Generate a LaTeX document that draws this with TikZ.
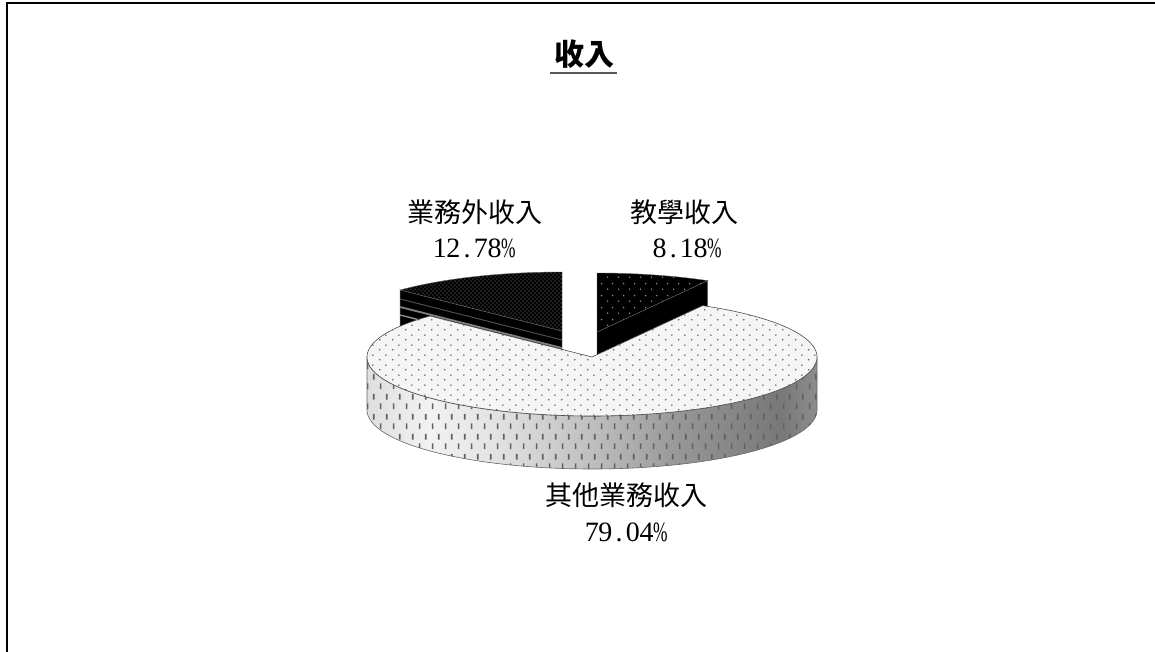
\documentclass[tikz,border=0pt]{standalone}
\usepackage{fontspec}
\usepackage{graphicx}
\setmainfont{Liberation Serif}
\newfontfamily\cjk{Noto Sans CJK TC}
\usetikzlibrary{patterns,calc}

\pgfdeclarepatternformonly{topdots}{\pgfqpoint{0pt}{0pt}}{\pgfqpoint{13pt}{10pt}}{\pgfqpoint{13pt}{10pt}}{%
  \pgfpathcircle{\pgfqpoint{3pt}{2.5pt}}{0.95pt}%
  \pgfpathcircle{\pgfqpoint{9.5pt}{7.5pt}}{0.95pt}%
  \pgfusepath{fill}}
\pgfdeclarepatternformonly{sparsedots}{\pgfqpoint{0pt}{0pt}}{\pgfqpoint{11pt}{12pt}}{\pgfqpoint{11pt}{12pt}}{%
  \pgfpathcircle{\pgfqpoint{2.75pt}{3pt}}{0.9pt}%
  \pgfpathcircle{\pgfqpoint{8.25pt}{9pt}}{0.9pt}%
  \pgfusepath{fill}}
\pgfdeclarepatternformonly{densedots}{\pgfqpoint{0pt}{0pt}}{\pgfqpoint{4.4pt}{4.4pt}}{\pgfqpoint{4.4pt}{4.4pt}}{%
  \pgfpathcircle{\pgfqpoint{1.1pt}{1.1pt}}{0.8pt}%
  \pgfpathcircle{\pgfqpoint{3.3pt}{3.3pt}}{0.8pt}%
  \pgfusepath{fill}}
\pgfdeclarepatternformonly{wallticks}{\pgfqpoint{0pt}{0pt}}{\pgfqpoint{13pt}{20pt}}{\pgfqpoint{13pt}{20pt}}{%
  \pgfpathrectangle{\pgfqpoint{3pt}{3pt}}{\pgfqpoint{1.8pt}{6pt}}%
  \pgfpathrectangle{\pgfqpoint{9.5pt}{13pt}}{\pgfqpoint{1.8pt}{6pt}}%
  \pgfusepath{fill}}

\newcommand\dg[1]{\makebox[13.7pt]{#1}}
\newcommand\dgp{\makebox[13.7pt]{\scalebox{0.62}[1]{\%}}}
\newcommand\wallpath{plot[domain=180:360, samples=120] ({592+225*cos(\x)},{357-59*sin(\x)})
   -- plot[domain=360:180, samples=120] ({592+225*cos(\x)},{410-59*sin(\x)}) -- cycle}

\tikzset{
  lab/.style={font=\cjk\fontsize{27pt}{27pt}\selectfont, inner sep=0pt},
  num/.style={font=\fontsize{28pt}{28pt}\selectfont, inner sep=0pt},
  titlestyle/.style={font=\cjk\bfseries\fontsize{30pt}{30pt}\selectfont, inner sep=0pt},
  mainface/.style={preaction={fill=black!4}, pattern=topdots, pattern color=black!62,
                   draw=black!70, line width=0.6pt},
  wallticksty/.style={pattern=wallticks, pattern color=black!62, draw=black!60, line width=0.6pt},
  teachtop/.style={preaction={fill=black}, pattern=sparsedots, pattern color=black!45,
                   draw=black!60, line width=0.4pt},
  teachcut/.style={fill=black, draw=black!60, line width=0.4pt},
  outtop/.style={preaction={fill=black}, pattern=densedots, pattern color=black!58,
                 draw=black!60, line width=0.4pt},
  outcut/.style={fill=black, draw=black!60, line width=0.4pt},
  stripe/.style={black!50, line width=1.8pt},
  frameline/.style={line width=2pt, black}
}

\begin{document}
\begin{tikzpicture}[x=1pt, y=-1pt]
\useasboundingbox (0,0) rectangle (1155,652);
\fill[white] (0,0) rectangle (1155,652);
\draw[frameline] (7,653) -- (7,3) -- (1156,3);

% exploded slice: 業務外收入 (90 to 136.008 deg)
\coordinate (A1) at (562,331);
\coordinate (R1) at (400.15,290.02);
\path[outcut] (A1) -- (R1) -- ($(R1)+(0,53)$) -- ($(A1)+(0,53)$) -- cycle;
\begin{scope}
  \clip (A1) -- (R1) -- ($(R1)+(0,53)$) -- ($(A1)+(0,53)$) -- cycle;
  \draw[stripe] ($(R1)+(0,17)$) -- ($(A1)+(0,17)$);
  \draw[stripe, black!40, line width=1.3pt] ($(R1)+(0,25)$) -- ($(A1)+(0,25)$);
  \draw[stripe, black!70, line width=1pt] ($(R1)+(0,9)$) -- ($(A1)+(0,9)$);
\end{scope}
\path[outtop] (A1) -- plot[domain=90:136.008, samples=40] ({562+225*cos(\x)},{331-59*sin(\x)}) -- cycle;

% exploded slice: 教學收入 (60.552 to 90 deg)
\coordinate (A2) at (597,332);
\coordinate (R2) at (707.63,280.62);
\path[teachcut] (A2) -- (R2) -- ($(R2)+(0,53)$) -- ($(A2)+(0,53)$) -- cycle;
\path[teachtop] (A2) -- (597,273) -- plot[domain=90:60.552, samples=30] ({597+225*cos(\x)},{332-59*sin(\x)}) -- cycle;

% main slice: 其他業務收入 -- side wall
\coordinate (C) at (592,357);
\begin{scope}
  \clip \wallpath;
  \shade[left color=black!13, right color=black!5] (365,350) rectangle (430.5,475);
  \shade[left color=black!5, right color=black!12] (430,350) rectangle (500.5,475);
  \shade[left color=black!12, right color=black!25] (500,350) rectangle (590.5,475);
  \shade[left color=black!25, right color=black!41] (590,350) rectangle (680.5,475);
  \shade[left color=black!41, right color=black!53] (680,350) rectangle (780.5,475);
  \shade[left color=black!53, right color=black!44] (780,350) rectangle (820,475);
\end{scope}
\path[wallticksty] \wallpath;
% top face
\path[mainface] (C) -- plot[domain=136.008:420.552, samples=200] ({592+225*cos(\x)},{357-59*sin(\x)}) -- cycle;

% labels
\node[titlestyle] (title) at (584,54) {收入};
\draw[black!65, line width=1.6pt] (550,73) -- (617,73);

\node[lab] (nOut) at (475,212) {業務外收入};
\node[num] (pOut) at (474,248) {\dg1\dg2\dg.\dg7\dg8\dgp};
\node[lab] (nTeach) at (684,212) {教學收入};
\node[num] (pTeach) at (687,248) {\dg8\dg.\dg1\dg8\dgp};
\node[lab] (nOther) at (626,495) {其他業務收入};
\node[num] (pOther) at (626,532) {\dg7\dg9\dg.\dg0\dg4\dgp};
\end{tikzpicture}
\end{document}
